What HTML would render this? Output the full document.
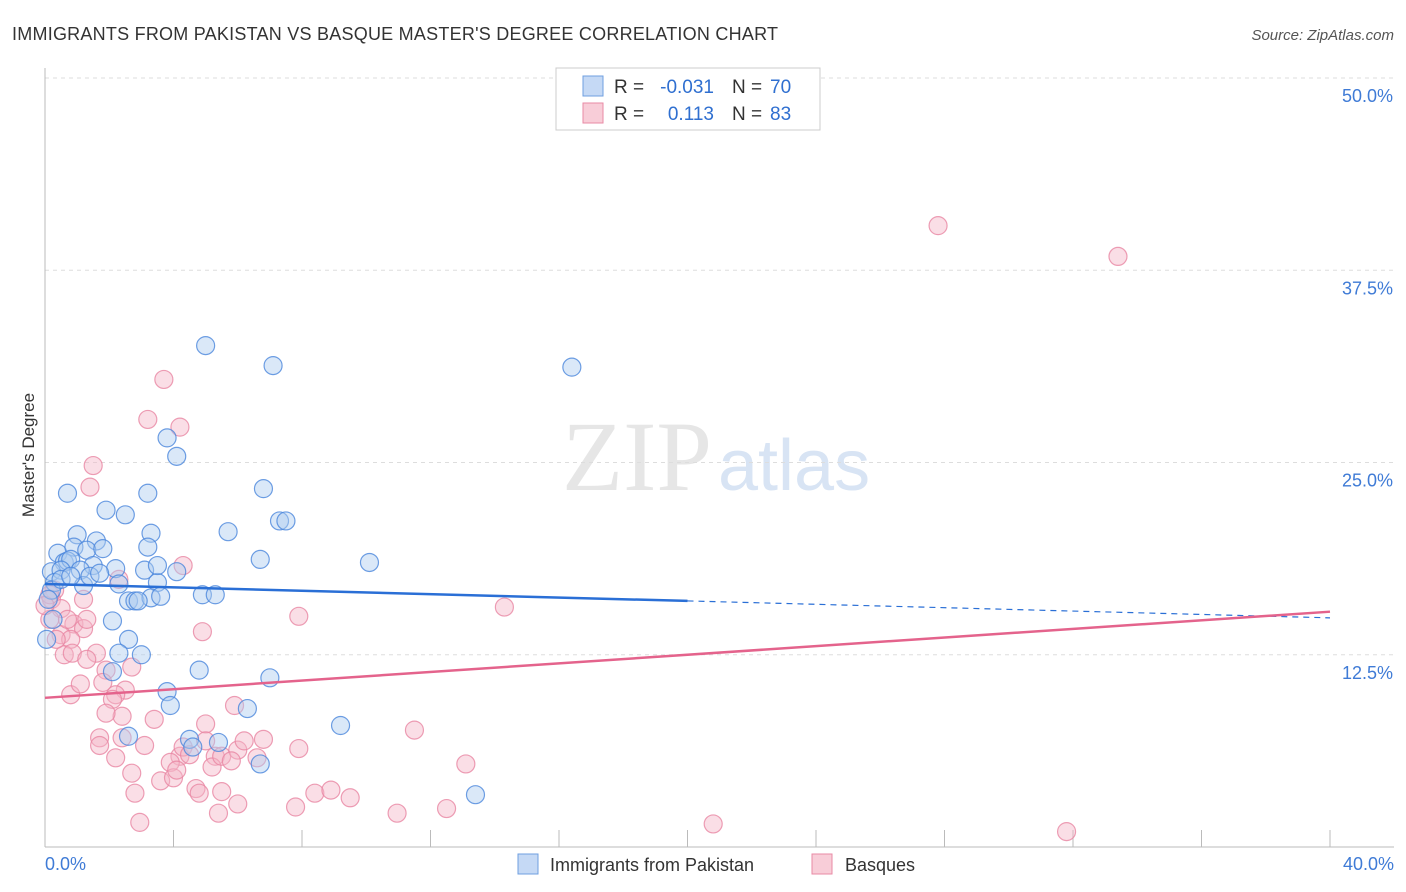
<!DOCTYPE html>
<html><head><meta charset="utf-8"><style>
body{margin:0;background:#fff;font-family:"Liberation Sans",sans-serif;}
svg{display:block}
</style></head><body>
<svg id="chart" width="1406" height="892">
<text x="12" y="40" font-size="18" fill="#333" textLength="766">IMMIGRANTS FROM PAKISTAN VS BASQUE MASTER'S DEGREE CORRELATION CHART</text>
<text x="1394" y="40" font-size="15" fill="#555" text-anchor="end" font-style="italic">Source: ZipAtlas.com</text>
<text x="712" y="490" font-size="100" fill="#e6e6e6" text-anchor="end" font-family="Liberation Serif,serif">ZIP</text>
<text x="718" y="490" font-size="72" fill="#d8e4f4">atlas</text>
<g id="grid"></g><g id="axes"></g><g id="pts"></g><g id="lines"></g>
<text transform="translate(34,455) rotate(-90)" font-size="17" fill="#333" text-anchor="middle">Master's Degree</text>
<g>
<rect x="556" y="68" width="264" height="62" fill="#fff" stroke="#ccc"/>
<rect x="583" y="76" width="20" height="20" fill="#c5d9f5" stroke="#6f9fe0"/>
<rect x="583" y="103" width="20" height="20" fill="#f8cdd8" stroke="#e88aa5"/>
<text x="614" y="93" font-size="19" fill="#333">R =</text>
<text x="714" y="93" font-size="19" fill="#2f6fd0" text-anchor="end">-0.031</text>
<text x="732" y="93" font-size="19" fill="#333">N =</text>
<text x="770" y="93" font-size="19" fill="#2f6fd0">70</text>
<text x="614" y="120" font-size="19" fill="#333">R =</text>
<text x="714" y="120" font-size="19" fill="#2f6fd0" text-anchor="end">0.113</text>
<text x="732" y="120" font-size="19" fill="#333">N =</text>
<text x="770" y="120" font-size="19" fill="#2f6fd0">83</text>
</g>
<g>
<rect x="518" y="854" width="20" height="20" fill="#c5d9f5" stroke="#6f9fe0"/>
<text x="550" y="871" font-size="18" fill="#333">Immigrants from Pakistan</text>
<rect x="812" y="854" width="20" height="20" fill="#f8cdd8" stroke="#e88aa5"/>
<text x="845" y="871" font-size="18" fill="#333">Basques</text>
</g>
</svg>
<script>
const NS="http://www.w3.org/2000/svg";
const yTicks=[12.5,25,37.5,50];
const yTickLabels=["12.5%","25.0%","37.5%","50.0%"];
const xTickLabels=["0.0%","40.0%"];
const pakX=[5.0,7.1,16.4,3.8,4.1,0.7,3.2,6.8,1.9,2.5,7.3,7.5,1.0,3.3,5.7,1.6,3.2,0.4,0.9,1.3,1.8,6.7,10.1,0.6,0.7,0.8,0.2,0.5,1.5,1.1,2.2,3.1,4.1,0.3,1.2,2.3,3.5,3.5,1.4,2.6,2.8,3.3,3.6,4.9,5.3,2.9,2.1,2.6,2.3,3.0,4.8,7.0,2.1,3.8,3.9,6.3,9.2,2.6,4.5,4.6,5.4,6.7,13.4,0.2,0.1,0.25,0.05,0.5,0.8,1.7];
const pakY=[32.6,31.3,31.2,26.6,25.4,23.0,23.0,23.3,21.9,21.6,21.2,21.2,20.3,20.4,20.5,19.9,19.5,19.1,19.5,19.3,19.4,18.7,18.5,18.5,18.6,18.7,17.9,18.0,18.3,18.0,18.1,18.0,17.9,17.2,17.0,17.1,17.2,18.3,17.6,16.0,16.0,16.2,16.3,16.4,16.4,16.0,14.7,13.5,12.6,12.5,11.5,11.0,11.4,10.1,9.2,9.0,7.9,7.2,7.0,6.5,6.8,5.4,3.4,16.7,16.1,14.8,13.5,17.4,17.6,17.8];
const basX=[27.8,33.4,3.7,3.2,4.2,1.5,1.4,4.3,14.3,7.9,0.3,0.2,0.5,0.15,2.3,1.2,0.9,1.2,1.3,0.5,0.8,0.6,0.85,1.6,1.3,1.9,2.7,0.8,1.1,1.8,2.5,2.2,2.1,2.4,1.9,3.4,1.7,4.9,5.0,5.9,1.7,3.1,2.2,2.4,4.2,4.3,2.7,3.9,5.0,5.3,4.5,5.2,5.5,6.0,6.2,5.8,6.8,6.6,7.9,11.5,13.1,2.8,3.6,4.0,4.1,4.7,4.8,5.5,6.0,5.4,7.8,8.4,8.9,9.5,10.96,12.5,2.95,20.8,31.8,0.15,0.0,0.35,0.7];
const basY=[40.4,38.4,30.4,27.8,27.3,24.8,23.4,18.3,15.6,15.0,16.7,16.1,15.5,14.8,17.4,16.1,14.5,14.2,14.8,13.8,13.5,12.5,12.6,12.6,12.2,11.5,11.7,9.9,10.6,10.7,10.2,9.9,9.6,8.5,8.7,8.3,7.1,14.0,8.0,9.2,6.6,6.6,5.8,7.1,5.9,6.5,4.8,5.5,6.9,5.9,6.0,5.2,5.9,6.3,6.9,5.6,7.0,5.8,6.4,7.6,5.4,3.5,4.3,4.5,5.0,3.8,3.5,3.6,2.8,2.2,2.6,3.5,3.7,3.2,2.2,2.5,1.6,1.5,1.0,16.4,15.7,13.5,14.8];
const pakTrend=[17.1,14.9];
const pakSolidEnd=20;
const basTrend=[9.7,15.3];
const X=v=>45+v*32.125, Y=v=>847-v*15.38;
const g=id=>document.getElementById(id);
function mk(tag,attrs,parent){const e=document.createElementNS(NS,tag);for(const k in attrs)e.setAttribute(k,attrs[k]);parent.appendChild(e);return e;}
yTicks.forEach((t,i)=>{
 const l=mk('line',{x1:45,x2:1394,y1:Y(t),y2:Y(t),stroke:'#ddd','stroke-dasharray':'4,4'},g('grid'));
 
 
 const tx=mk('text',{x:1393,y:Y(t)+24,'font-size':18,fill:'#3f7bd6','text-anchor':'end'},g('axes'));
 tx.textContent=yTickLabels[i];
 
 
});
mk('line',{x1:45,x2:45,y1:68,y2:847,stroke:'#bbb'},g('axes'));
mk('line',{x1:45,x2:1394,y1:847,y2:847,stroke:'#bbb'},g('axes'));
for(let i=1;i<=10;i++){const t=mk('line',{x1:X(i*4),x2:X(i*4),y1:830,y2:847,stroke:'#bbb'},g('axes'));
 
 }
const x0=mk('text',{x:45,y:870,'font-size':18,fill:'#3f7bd6'},g('axes'));x0.textContent=xTickLabels[0];


const x1=mk('text',{x:1394,y:870,'font-size':18,fill:'#3f7bd6','text-anchor':'end'},g('axes'));x1.textContent=xTickLabels[1];


function pts(xs,ys,fill,stroke,name){xs.forEach((v,i)=>{const c=mk('circle',{cx:X(v),cy:Y(ys[i]),r:9,fill:fill,'fill-opacity':0.45,stroke:stroke,'stroke-opacity':0.8,'stroke-width':1.2},g('pts'));
 
 });}
pts(basX,basY,'#f4b6c8','#e886a3','basque-point');
pts(pakX,pakY,'#aecbf0','#4a86dc','pakistan-point');
const py=x=>pakTrend[0]+(pakTrend[1]-pakTrend[0])*x/40;
const l1=mk('line',{x1:X(0),y1:Y(py(0)),x2:X(pakSolidEnd),y2:Y(py(pakSolidEnd)),stroke:'#2a6fd6','stroke-width':2.5},g('lines'));


const l2=mk('line',{x1:X(pakSolidEnd),y1:Y(py(pakSolidEnd)),x2:X(40),y2:Y(py(40)),stroke:'#2a6fd6','stroke-width':1.2,'stroke-dasharray':'6,5'},g('lines'));


const l3=mk('line',{x1:X(0),y1:Y(basTrend[0]),x2:X(40),y2:Y(basTrend[1]),stroke:'#e4638c','stroke-width':2.5},g('lines'));


</script>
</body></html>
